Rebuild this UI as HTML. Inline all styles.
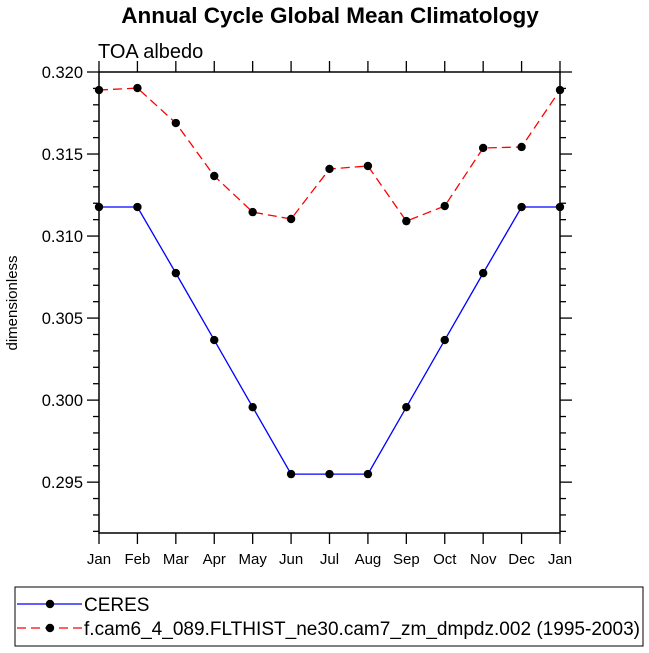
<!DOCTYPE html>
<html><head><meta charset="utf-8"><style>body{margin:0;background:#fff}svg{display:block;font-family:"Liberation Sans",Arial,sans-serif}</style></head>
<body>
<svg id="chart" width="649" height="653" xmlns="http://www.w3.org/2000/svg">
<text x="330" y="23" text-anchor="middle" font-size="22.5" font-weight="bold">Annual Cycle Global Mean Climatology</text>
<text x="98" y="58" font-size="20">TOA albedo</text>
<text transform="translate(17,303) rotate(-90)" text-anchor="middle" font-size="15">dimensionless</text>
<g id="axes"></g>
<g id="series"></g>
<g>
<rect x="15" y="587" width="628" height="59" fill="none" stroke="#000" stroke-width="1"/>
<line x1="17" y1="604" x2="82" y2="604" stroke="#0000ff" stroke-width="1.3"/>
<circle cx="50" cy="604" r="4.2" fill="#000"/>
<text x="84" y="611" font-size="19">CERES</text>
<line x1="17" y1="628" x2="82" y2="628" stroke="#ff0000" stroke-width="1.3" stroke-dasharray="9,5"/>
<circle cx="50" cy="628" r="4.2" fill="#000"/>
<text x="84" y="635" font-size="19" textLength="556" lengthAdjust="spacingAndGlyphs">f.cam6_4_089.FLTHIST_ne30.cam7_zm_dmpdz.002 (1995-2003)</text>
</g>
</svg>
<script>
const months = ['Jan','Feb','Mar','Apr','May','Jun','Jul','Aug','Sep','Oct','Nov','Dec','Jan'];
const ceres = [0.31177,0.31177,0.30774,0.30366,0.29957,0.29549,0.29549,0.29549,0.29957,0.30366,0.30774,0.31177,0.31177];
const model = [0.31890,0.31902,0.31689,0.31366,0.31146,0.31104,0.31409,0.31427,0.31091,0.31183,0.31537,0.31543,0.31890];
const yTicks = ['0.295','0.300','0.305','0.310','0.315','0.320'];
const L=99,R=560,T=72,B=533,yMin=0.2919,yMax=0.320;
const xs=i=>L+(R-L)*i/(months.length-1);
const ys=v=>B-(v-yMin)/(yMax-yMin)*(B-T);
const NS='http://www.w3.org/2000/svg';
function mk(tag,attrs,parent){const e=document.createElementNS(NS,tag);for(const k in attrs)e.setAttribute(k,attrs[k]);parent.appendChild(e);return e;}
const ax=document.getElementById('axes');
const frame=mk('rect',{x:L,y:T,width:R-L,height:B-T,fill:'none',stroke:'#000','stroke-width':1.5},ax);


months.forEach((m,i)=>{
  const x=xs(i);
  mk('line',{x1:x,y1:B,x2:x,y2:B+11,stroke:'#000','stroke-width':1.3},ax);
  mk('line',{x1:x,y1:T,x2:x,y2:T-11,stroke:'#000','stroke-width':1.3},ax);
  const t=mk('text',{x:x,y:B+31,'text-anchor':'middle','font-size':15},ax);
  t.textContent=m;
  
  
});
for(let k=292;k<=320;k++){
  const v=k/1000,y=ys(v),major=k%5===0,len=major?12:6;
  mk('line',{x1:L,y1:y,x2:L-len,y2:y,stroke:'#000','stroke-width':1.3},ax);
  mk('line',{x1:R,y1:y,x2:R+len,y2:y,stroke:'#000','stroke-width':1.3},ax);
}
yTicks.forEach(s=>{
  const t=mk('text',{x:L-16,y:ys(parseFloat(s))+6,'text-anchor':'end','font-size':16.5},ax);
  t.textContent=s;
  
  
});
const sg=document.getElementById('series');
function draw(vals,color,dash,name){
  const pts=vals.map((v,i)=>xs(i)+','+ys(v)).join(' ');
  const pl=mk('polyline',{points:pts,fill:'none',stroke:color,'stroke-width':1.3},sg);
  if(dash)pl.setAttribute('stroke-dasharray',dash);
  
  
  vals.forEach((v,i)=>{
    const c=mk('circle',{cx:xs(i),cy:ys(v),r:4.2,fill:'#000'},sg);
    
    
  });
}
draw(ceres,'#0000ff',null,'ceres');
draw(model,'#ff0000','9,5','model');
</script>
</body></html>
